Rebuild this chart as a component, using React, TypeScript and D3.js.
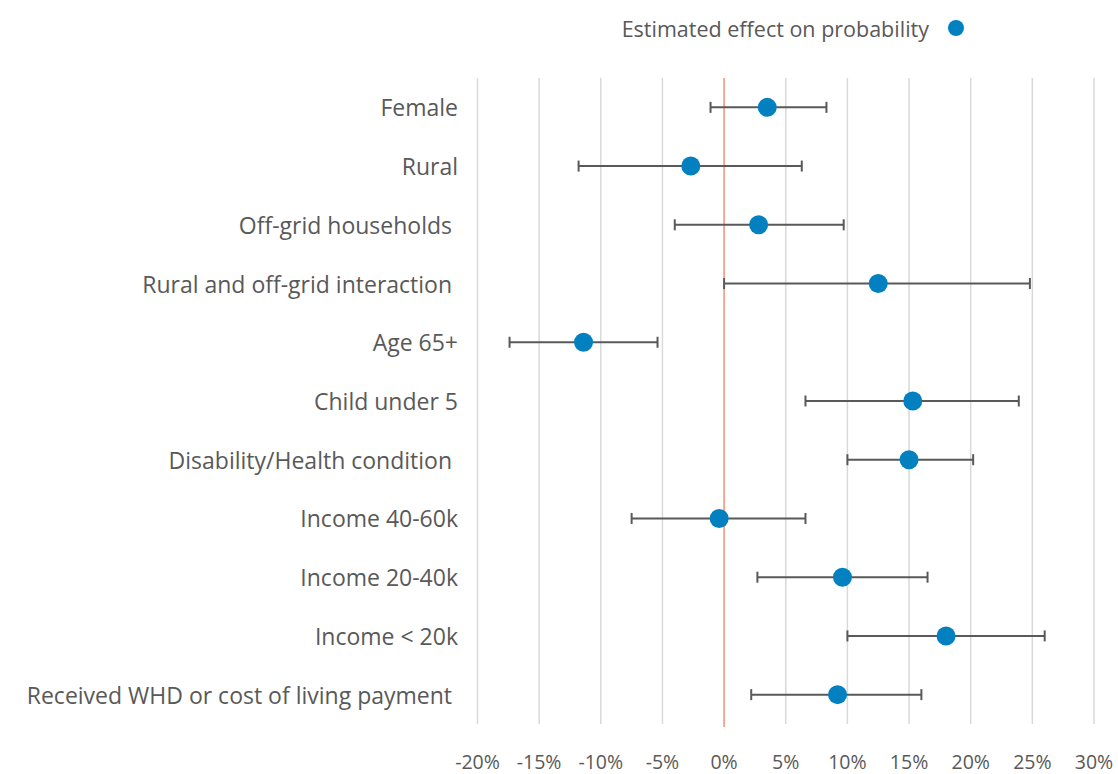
import React, { useRef, useEffect } from 'react';
import * as d3 from 'd3';

// categories, top to bottom
const categories = [
  'Female',
  'Rural',
  'Off-grid households ',
  'Rural and off-grid interaction ',
  'Age 65+',
  'Child under 5',
  'Disability/Health condition ',
  'Income 40-60k',
  'Income 20-40k',
  'Income < 20k',
  'Received WHD or cost of living payment ',
];

// estimated effect (%)
const estimates = [3.5, -2.7, 2.8, 12.5, -11.4, 15.3, 15.0, -0.4, 9.6, 18.0, 9.2];
// confidence interval bounds (%)
const lowerBounds = [-1.1, -11.8, -4.0, 0.0, -17.4, 6.6, 10.0, -7.5, 2.7, 10.0, 2.2];
const upperBounds = [8.3, 6.3, 9.7, 24.8, -5.4, 23.9, 20.2, 6.6, 16.5, 26.0, 16.0];

const xTicks = [-20, -15, -10, -5, 0, 5, 10, 15, 20, 25, 30];
const legendLabel = 'Estimated effect on probability';

const App = () => {
  const svgRef = useRef<SVGSVGElement>(null);

  useEffect(() => {
    const svg = d3.select(svgRef.current);
    svg.selectAll('*').remove();

    const W = 1118;
    const H = 774;
    const font = "'Open Sans', 'Noto Sans', sans-serif";
    const textColor = '#595959';
    const dotColor = '#0380C0';

    svg.attr('width', W).attr('height', H);

    const x = d3.scaleLinear().domain([-20, 30]).range([477.5, 1094]);
    const y = d3.scaleBand().domain(categories).range([78, 724]).padding(0);
    const cy = (i: number) => (y(categories[i]) as number) + y.bandwidth() / 2;

    // vertical grid lines
    svg.append('g')
      .selectAll('line')
      .data(xTicks.filter(d => d !== 0))
      .enter()
      .append('line')
      .attr('x1', d => x(d))
      .attr('x2', d => x(d))
      .attr('y1', 78)
      .attr('y2', 724)
      .attr('stroke', '#d9d9d9')
      .attr('stroke-width', 1.5);

    // zero line
    svg.append('line')
      .attr('x1', x(0))
      .attr('x2', x(0))
      .attr('y1', 78)
      .attr('y2', 727)
      .attr('stroke', '#f0907a')
      .attr('stroke-width', 1.5);

    // x tick labels
    svg.append('g')
      .selectAll('text')
      .data(xTicks)
      .enter()
      .append('text')
      .attr('x', d => x(d))
      .attr('y', 761)
      .attr('text-anchor', 'middle')
      .attr('dominant-baseline', 'central')
      .style('font-family', font)
      .style('font-size', '19.5px')
      .style('fill', textColor)
      .text(d => `${d}%`);

    // category labels (trailing spaces kept, as in the source)
    svg.append('g')
      .selectAll('text')
      .data(categories)
      .enter()
      .append('text')
      .attr('x', 458)
      .attr('y', (d, i) => cy(i))
      .attr('text-anchor', 'end')
      .attr('dominant-baseline', 'central')
      .style('font-family', font)
      .style('font-size', '23px')
      .style('fill', textColor)
      .style('white-space', 'pre')
      .text(d => d);

    // error bars
    const bars = svg.append('g')
      .selectAll('g')
      .data(categories)
      .enter()
      .append('g')
      .attr('stroke', '#595959')
      .attr('stroke-width', 2);

    bars.append('line')
      .attr('x1', (d, i) => x(lowerBounds[i]))
      .attr('x2', (d, i) => x(upperBounds[i]))
      .attr('y1', (d, i) => cy(i))
      .attr('y2', (d, i) => cy(i));
    bars.append('line')
      .attr('x1', (d, i) => x(lowerBounds[i]))
      .attr('x2', (d, i) => x(lowerBounds[i]))
      .attr('y1', (d, i) => cy(i) - 5.5)
      .attr('y2', (d, i) => cy(i) + 5.5);
    bars.append('line')
      .attr('x1', (d, i) => x(upperBounds[i]))
      .attr('x2', (d, i) => x(upperBounds[i]))
      .attr('y1', (d, i) => cy(i) - 5.5)
      .attr('y2', (d, i) => cy(i) + 5.5);

    // points
    svg.append('g')
      .selectAll('circle')
      .data(estimates)
      .enter()
      .append('circle')
      .attr('cx', d => x(d))
      .attr('cy', (d, i) => cy(i))
      .attr('r', 9.5)
      .attr('fill', dotColor);

    // legend
    svg.append('text')
      .attr('x', 929)
      .attr('y', 28)
      .attr('text-anchor', 'end')
      .attr('dominant-baseline', 'central')
      .style('font-family', font)
      .style('font-size', '21.5px')
      .style('fill', textColor)
      .text(legendLabel);
    svg.append('circle')
      .attr('cx', 956)
      .attr('cy', 28)
      .attr('r', 8)
      .attr('fill', dotColor);
  }, []);

  return (
    <div style={{ position: 'absolute', left: 0, top: 0 }}>
      <svg ref={svgRef} style={{ display: 'block', background: '#fff' }} />
    </div>
  );
};

export default App;
